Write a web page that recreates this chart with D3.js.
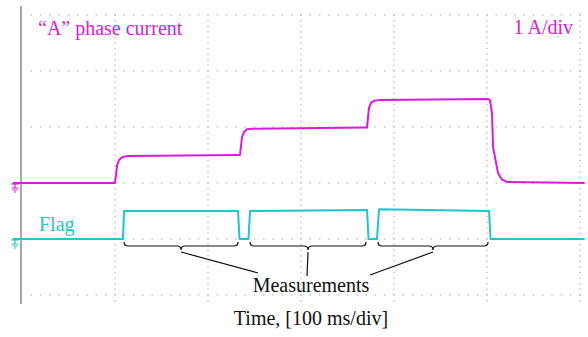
<!DOCTYPE html>
<html>
<head>
<meta charset="utf-8">
<script src="https://cdn.jsdelivr.net/npm/d3@7"></script>
<style>
  body { margin: 0; background: #fff; }
  svg { display: block; }
</style>
</head>
<body>
<svg width="588" height="337"></svg>
<script>
// phase "A" current trace, breakpoints (time ms, current A)
const phaseT = [-10, 100, 101.1, 102.2, 104.3, 107.5, 112.9, 232.3, 234.4, 235.5, 236.6, 238.7, 241.9, 247.3,
                368.8, 371, 372, 373.1, 375.3, 378.5, 383.9, 501.1, 503.2, 505.4, 506.5, 508.6, 511.8, 516.1, 521.5, 605];
const phaseA = [0, 0, 0.14, 0.32, 0.41, 0.46, 0.48, 0.50, 0.50, 0.66, 0.82, 0.91, 0.96, 0.97,
                0.99, 0.99, 1.16, 1.34, 1.43, 1.47, 1.48, 1.50, 1.48, 1.25, 0.64, 0.46, 0.18, 0.06, 0.02, 0];

// flag trace (time ms, level in div)
const flagT = [-10, 108.6, 109.7, 232.3, 233.9, 243.5, 245.2, 371, 372.6, 381.7, 383.9, 502.2, 503.8, 605];
const flagV = [0, 0, 0.5, 0.5, 0, 0, 0.5, 0.52, 0, 0, 0.53, 0.5, 0, 0];

// measurement windows (ms)
const braceStart = [109.7, 245.2, 382.8];
const braceEnd = [232.3, 369.9, 501.1];

const xDivs = [0, 1, 2, 3, 4, 5, 6];   // 100 ms/div
const yDivs = [0, 1, 2, 3, 4, 5];

const magenta = "#d81cd8", cyan = "#1fc6cc";

const svg = d3.select("svg")
  .attr("font-family", "'Liberation Serif', 'Times New Roman', serif")
  .attr("font-size", 20);

const x = d3.scaleLinear().domain([0, 600]).range([22, 580]);
const y = d3.scaleLinear().domain([0, 5]).range([295, 15]);   // divisions
const phaseOffset = 2, flagOffset = 1;

// grid of dots
const grid = svg.append("g").attr("fill", "#c4c4c4");
yDivs.forEach(d => {
  d3.range(0, 60.5, 1).forEach(m => {
    const px = x(m * 10);
    if (px > 24) grid.append("rect").attr("x", px - 0.75).attr("y", y(d) - 0.75).attr("width", 1.5).attr("height", 1.5);
  });
});
xDivs.slice(1).forEach(d => {
  d3.range(0, 50.5, 1).forEach(m => {
    const py = y(m / 10);
    grid.append("rect").attr("x", x(d * 100) - 0.75).attr("y", py - 0.75).attr("width", 1.5).attr("height", 1.5);
  });
  grid.append("rect").attr("x", x(d * 100) - 0.75).attr("y", 300).attr("width", 1.5).attr("height", 1.5);
});

// left frame line
svg.append("line").attr("x1", 21).attr("x2", 21).attr("y1", 6).attr("y2", 304)
  .attr("stroke", "#8a8a8a").attr("stroke-width", 1.5);

// traces
const phaseLine = d3.line().x(d => x(d[0])).y(d => y(d[1] + phaseOffset));
const flagLine = d3.line().x(d => x(d[0])).y(d => y(d[1] + flagOffset));

svg.append("path").datum(d3.zip(phaseT, phaseA)).attr("d", phaseLine)
  .attr("fill", "none").attr("stroke", magenta).attr("stroke-width", 2).attr("stroke-linejoin", "round");
svg.append("path").datum(d3.zip(flagT, flagV)).attr("d", flagLine)
  .attr("fill", "none").attr("stroke", cyan).attr("stroke-width", 2).attr("stroke-linejoin", "round");

// ground markers
function ground(yy, col) {
  svg.append("path")
    .attr("d", `M11,${yy} h8 M15,${yy} v4 M11.5,${yy + 4} h7 M12.5,${yy + 6} h5 M14,${yy + 8} h2`)
    .attr("fill", "none").attr("stroke", col).attr("stroke-width", 1.2);
}
ground(y(phaseOffset) + 1, magenta);
ground(y(flagOffset) + 1, cyan);

// braces
const by0 = 242, by1 = 246, by2 = 250, r = 4;
const tips = [];
braceStart.forEach((s, i) => {
  const x0 = x(s), x1 = x(braceEnd[i]), xc = (x0 + x1) / 2;
  tips.push(xc);
  svg.append("path")
    .attr("d", `M${x0},${by0} Q${x0},${by1} ${x0 + r},${by1} L${xc - r},${by1} Q${xc},${by1} ${xc},${by2}` +
               ` Q${xc},${by1} ${xc + r},${by1} L${x1 - r},${by1} Q${x1},${by1} ${x1},${by0}`)
    .attr("fill", "none").attr("stroke", "#111").attr("stroke-width", 1.2);
});

// leader lines to label
const lx = 311;
const ends = [[lx - 53, 273], [lx - 4, 276], [lx + 59, 275]];
tips.forEach((t, i) => {
  svg.append("line").attr("x1", t).attr("y1", by2 + 2).attr("x2", ends[i][0]).attr("y2", ends[i][1])
    .attr("stroke", "#111").attr("stroke-width", 1.2);
});

// texts
svg.append("text").attr("x", lx).attr("y", 292).attr("text-anchor", "middle").attr("fill", "#111").text("Measurements");
svg.append("text").attr("x", lx).attr("y", 325).attr("text-anchor", "middle").attr("fill", "#111").text("Time, [100 ms/div]");
svg.append("text").attr("x", 38).attr("y", 35).attr("fill", magenta).text("\u201CA\u201D phase current");
svg.append("text").attr("x", 573).attr("y", 34).attr("text-anchor", "end").attr("fill", magenta).text("1 A/div");
svg.append("text").attr("x", 39).attr("y", 231).attr("fill", cyan).text("Flag");
</script>
</body>
</html>
